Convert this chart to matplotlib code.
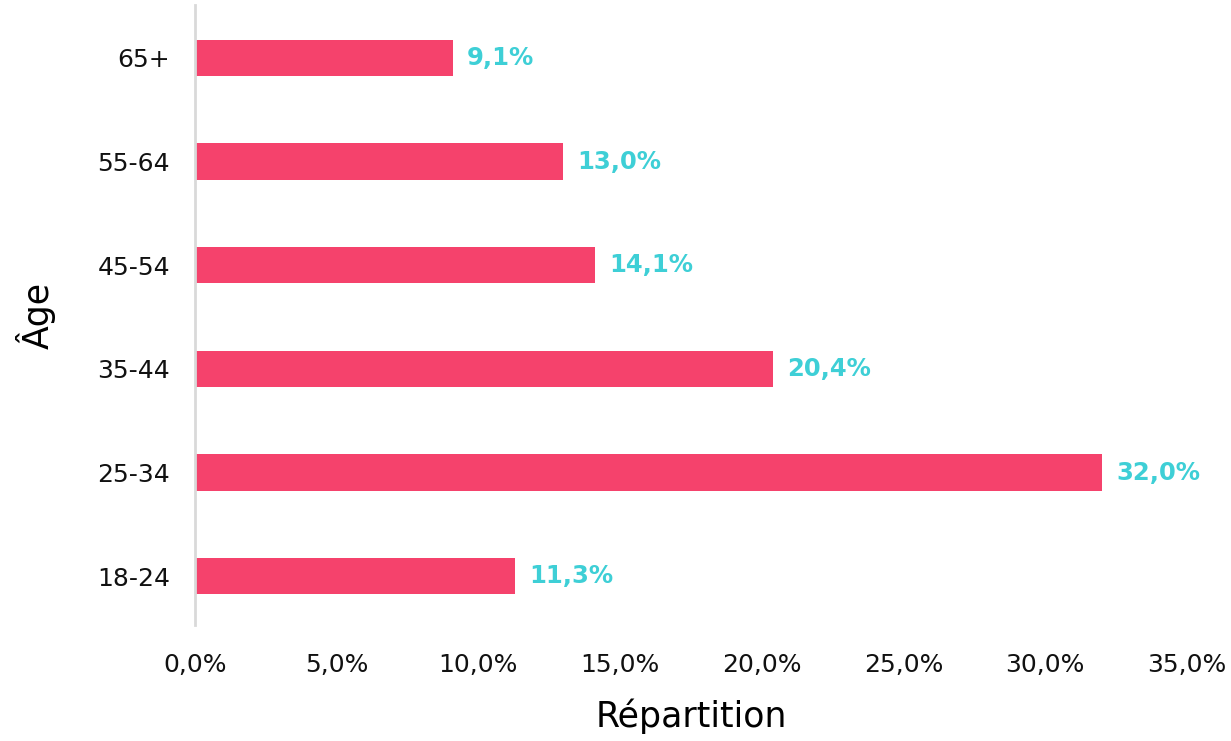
import matplotlib
matplotlib.use("Agg")
from matplotlib import pyplot as plt
from matplotlib.ticker import FuncFormatter

ages = ["18-24", "25-34", "35-44", "45-54", "55-64", "65+"]
shares = [11.3, 32.0, 20.4, 14.1, 13.0, 9.1]
xticks = [0, 5, 10, 15, 20, 25, 30, 35]

plt.rcParams['font.family'] = ['DejaVu Sans']

fig = plt.figure(figsize=(12.31, 7.41), dpi=100)
ax = fig.add_axes([195/1231, 116/741, (1187-195)/1231, 620/741])

pos = range(len(ages))
ax.barh(pos, shares, height=0.35, color="#F5426C")
for y, v in zip(pos, shares):
    ax.text(v + 0.5, y, "{:.1f}%".format(v).replace(".", ","), va="center", ha="left",
            color="#3ECFD6", fontsize=17.5, fontweight="bold")

ax.set_xlim(0, 35)
ax.set_ylim(-0.47, 5.51)
ax.set_xticks(xticks)
ax.xaxis.set_major_formatter(FuncFormatter(lambda v, p: "{:.1f}%".format(v).replace(".", ",")))
ax.set_yticks(list(pos))
ax.set_yticklabels(ages)
ax.tick_params(length=0, labelsize=18, colors="#111111")
ax.tick_params(axis="x", pad=20)
ax.tick_params(axis="y", pad=18)
for s in ["top", "right", "bottom"]:
    ax.spines[s].set_visible(False)
ax.spines["left"].set_color("#d9d9d9")
ax.spines["left"].set_linewidth(2)
ax.set_xlabel("Répartition", fontsize=25, labelpad=16)
ax.set_ylabel("Âge", fontsize=25, labelpad=30)

plt.savefig("out.png", dpi=100)
